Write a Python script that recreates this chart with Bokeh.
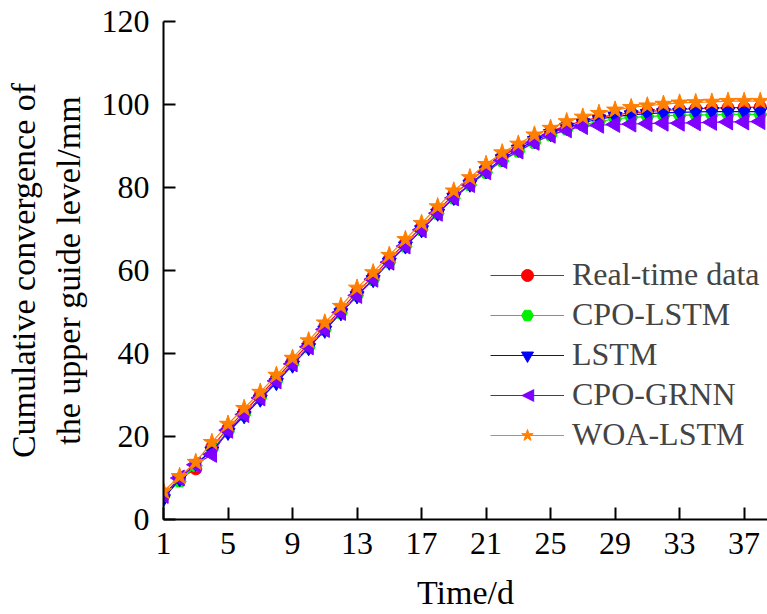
import math
from bokeh.plotting import figure
from bokeh.models import Range1d, FixedTicker, Legend, LegendItem, Label
from bokeh.embed import file_html
from bokeh.resources import INLINE

days = list(range(1, 39))

real_time = [6.0, 9.8, 12.2, 17.5, 22.0, 26.0, 30.0, 34.0, 38.2, 42.3,
             46.5, 50.5, 54.8, 58.6, 62.8, 66.6, 70.5, 74.5, 78.3, 81.5,
             84.7, 87.5, 89.7, 91.8, 93.5, 95.0, 96.0, 96.9, 97.5, 98.0,
             98.3, 98.6, 98.8, 99.0, 99.1, 99.2, 99.3, 99.4]
cpo_lstm = [5.5, 9.2, 13.0, 16.8, 21.2, 25.2, 29.3, 33.3, 37.4, 41.5,
            45.7, 49.8, 54.0, 57.8, 62.0, 65.8, 69.8, 73.7, 77.4, 80.6,
            83.6, 86.4, 88.7, 90.8, 92.6, 94.0, 95.1, 95.9, 96.5, 96.9,
            97.1, 97.3, 97.4, 97.5, 97.5, 97.6, 97.6, 97.6]
lstm = [5.0, 9.8, 13.5, 16.5, 21.0, 25.0, 29.0, 33.0, 37.2, 41.4,
        45.6, 49.8, 53.9, 57.8, 62.0, 65.9, 69.8, 73.8, 77.6, 80.8,
        84.0, 86.9, 89.2, 91.3, 93.0, 94.5, 95.6, 96.5, 97.1, 97.5,
        97.8, 98.0, 98.1, 98.2, 98.3, 98.3, 98.3, 98.3]
cpo_grnn = [5.8, 10.0, 13.2, 15.7, 21.5, 25.3, 29.3, 33.4, 37.5, 41.6,
            45.8, 49.9, 54.0, 57.9, 62.0, 65.9, 69.8, 73.8, 77.5, 80.7,
            83.8, 86.5, 88.8, 90.9, 92.6, 93.9, 94.7, 95.0, 95.2, 95.3,
            95.4, 95.5, 95.5, 95.6, 95.7, 95.8, 95.8, 95.9]
woa_lstm = [6.8, 10.4, 13.8, 18.6, 23.0, 26.8, 30.7, 34.8, 38.9, 43.1,
            47.4, 51.4, 55.8, 59.5, 63.7, 67.5, 71.4, 75.4, 79.2, 82.4,
            85.6, 88.4, 90.5, 92.7, 94.3, 95.9, 97.0, 97.9, 98.7, 99.3,
            99.7, 100.1, 100.4, 100.5, 100.6, 100.8, 100.8, 100.8]

x_ticks = [1, 5, 9, 13, 17, 21, 25, 29, 33, 37]
y_ticks = [0, 20, 40, 60, 80, 100, 120]

FONT = "Liberation Serif"
FS = "32px"
FS_TITLE = "34px"

p = figure(width=767, height=613, output_backend="svg", toolbar_location=None,
           x_range=Range1d(1, 38.45), y_range=Range1d(0, 120),
           min_border_left=163, min_border_right=0, min_border_top=21,
           min_border_bottom=93)
p.outline_line_color = None
p.grid.visible = False

for ax in (p.xaxis[0], p.yaxis[0]):
    ax.axis_line_width = 2
    ax.axis_line_color = "black"
    ax.major_tick_in = 12
    ax.major_tick_out = 0
    ax.major_tick_line_width = 2
    ax.minor_tick_line_color = None
    ax.major_label_text_font = FONT
    ax.major_label_text_font_size = FS
    ax.major_label_text_color = "black"
    ax.axis_label_text_font = FONT
    ax.axis_label_text_font_size = FS_TITLE
    ax.axis_label_text_font_style = "normal"
    ax.axis_label_text_color = "black"

p.xaxis[0].ticker = FixedTicker(ticks=x_ticks)
p.yaxis[0].ticker = FixedTicker(ticks=y_ticks)
p.xaxis[0].axis_label = "Time/d"
p.yaxis[0].axis_label = "Cumulative convergence of\nthe upper guide level/mm"
p.xaxis[0].major_label_standoff = 13
p.xaxis[0].axis_label_standoff = 17
p.yaxis[0].major_label_standoff = 14
p.yaxis[0].axis_label_standoff = 12

series = [
    ("Real-time data", real_time, "#FF0000", "circle", 12, 0),
    ("CPO-LSTM", cpo_lstm, "#00EE00", "hex", 13, 0),
    ("LSTM", lstm, "#0000FF", "inverted_triangle", 14, 0),
    ("CPO-GRNN", cpo_grnn, "#8000FF", "triangle", 16, 90),
    ("WOA-LSTM", woa_lstm, "#FF7F00", "star", 18, 0),
]

items = []
for name, ys, color, marker, size, ang in series:
    l = p.line(days, ys, line_color=color, line_width=1.2)
    s = p.scatter(days, ys, marker=marker, size=size, angle=ang,
                  angle_units="deg", fill_color=color, line_color=color)
    # legend glyphs are never rotated in Bokeh, so the rotated triangle
    # is added to its legend row as a text symbol below
    rs = [l] if ang else [l, s]
    items.append(LegendItem(label=name, renderers=rs))

legend = Legend(items=items, location=(327, 66), border_line_color=None,
                background_fill_alpha=0, label_text_font=FONT,
                label_text_font_size=FS, glyph_width=74, glyph_height=30,
                label_standoff=8, spacing=3, padding=0, margin=0)
p.add_layout(legend, "center")

p.add_layout(Label(x=23.57, y=30.2, text="\u25C0", text_align="center",
                   text_baseline="middle", text_color="#8000FF",
                   text_font="DejaVu Sans", text_font_size="17px"))

open("out.html", "w").write(file_html(p, INLINE))
